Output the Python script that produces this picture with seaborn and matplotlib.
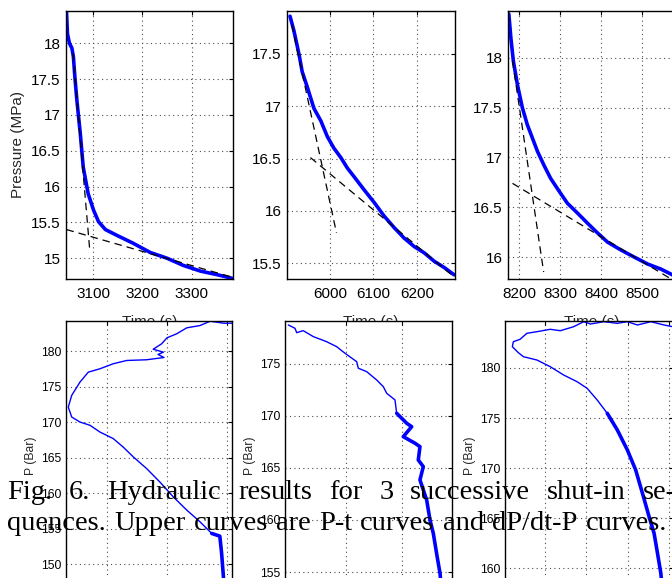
import matplotlib
matplotlib.use("Agg")
import matplotlib.pyplot as plt
import pandas as pd
import seaborn as sns

# ---------------- data ----------------
# Upper row: P-t curves (time in s, pressure in MPa)
t1 = [3046, 3048, 3052, 3057, 3060, 3063, 3067, 3074, 3080, 3090, 3101, 3111,
      3125, 3148, 3181, 3216, 3250, 3283, 3318, 3352, 3382]
p1 = [18.44, 18.13, 18.00, 17.93, 17.81, 17.53, 17.21, 16.74, 16.27, 15.90, 15.67,
      15.51, 15.40, 15.32, 15.21, 15.08, 15.00, 14.90, 14.82, 14.77, 14.72]
fit1_steep_t = [3059, 3093]
fit1_steep_p = [17.86, 15.13]
fit1_flat_t = [3046, 3380]
fit1_flat_p = [15.40, 14.74]

t2 = [5908, 5917, 5929, 5936, 5948, 5963, 5979, 5994, 6009, 6025, 6040, 6055, 6079,
      6102, 6125, 6148, 6171, 6194, 6217, 6240, 6263, 6286]
p2 = [17.86, 17.72, 17.49, 17.33, 17.18, 16.98, 16.86, 16.71, 16.60, 16.51, 16.41,
      16.33, 16.20, 16.08, 15.95, 15.84, 15.74, 15.66, 15.60, 15.52, 15.46, 15.39]
fit2_steep_t = [5912, 6015]
fit2_steep_p = [17.78, 15.79]
fit2_flat_t = [5955, 6286]
fit2_flat_p = [16.51, 15.37]

t3 = [8175, 8180, 8186, 8196, 8208, 8220, 8233, 8245, 8261, 8277, 8298, 8318, 8343,
      8367, 8392, 8416, 8449, 8481, 8514, 8546, 8575]
p3 = [18.44, 18.20, 17.97, 17.73, 17.50, 17.33, 17.19, 17.06, 16.92, 16.79, 16.66,
      16.54, 16.44, 16.34, 16.24, 16.15, 16.07, 16.00, 15.93, 15.88, 15.82]
fit3_steep_t = [8184, 8260]
fit3_steep_p = [17.97, 15.85]
fit3_flat_t = [8184, 8575]
fit3_flat_p = [16.74, 15.77]

# Lower row: dP/dt-P curves (P in bar)
d1 = [3.09, 2.94, 2.72, 2.55, 2.33, 2.16, 2.00, 1.91, 1.77, 1.94, 1.85, 1.95, 1.66,
      1.33, 1.105, 0.883, 0.688, 0.55, 0.412, 0.355, 0.412, 0.55, 0.717, 0.883, 1.105,
      1.27, 1.44, 1.66, 1.88, 2.105, 2.33, 2.55, 2.745, 2.88, 2.91, 2.94, 2.95]
q1 = [183.99, 183.99, 184.27, 183.66, 183.34, 182.49, 181.93, 181.08, 180.32, 179.90,
      179.58, 179.15, 178.83, 178.73, 178.27, 177.56, 177.08, 175.68, 173.80, 172.15,
      170.75, 170.04, 169.58, 168.63, 167.70, 166.51, 165.11, 163.48, 161.59, 159.48,
      157.61, 155.96, 154.32, 153.94, 151.51, 148.21, 144.93]

d2 = [-0.030, 0.089, 0.120, 0.237, 0.416, 0.655, 0.834, 0.982, 1.191, 1.220, 1.370,
      1.548, 1.666, 1.727, 1.875, 1.905, 2.084, 2.173, 2.023, 2.232, 2.321, 2.291,
      2.380, 2.321, 2.441, 2.500, 2.559, 2.620, 2.679, 2.714]
q2 = [178.75, 178.43, 178.01, 178.20, 177.63, 177.14, 176.66, 176.03, 175.22, 174.59,
      174.26, 173.46, 172.82, 172.18, 171.54, 170.26, 169.30, 168.97, 168.01, 167.38,
      167.05, 165.77, 165.13, 163.85, 161.92, 160.00, 158.72, 156.72, 154.88, 152.79]

d3 = [4.09, 3.885, 3.561, 3.237, 2.993, 2.749, 2.422, 2.098, 1.934, 1.690, 1.366,
      1.122, 0.798, 0.554, 0.390, 0.227, 0.202, 0.349, 0.471, 0.798, 1.122, 1.446,
      1.773, 2.017, 2.261, 2.505, 2.749, 2.993, 3.195, 3.359, 3.520, 3.641, 3.724,
      3.805, 3.854]
q3 = [184.13, 184.30, 184.63, 184.30, 184.63, 184.47, 184.63, 184.40, 184.63, 184.13,
      183.73, 183.87, 183.63, 183.47, 182.87, 182.63, 182.13, 181.53, 181.13, 180.80,
      180.13, 179.30, 178.63, 177.97, 176.80, 175.47, 173.80, 171.80, 169.80, 167.47,
      165.13, 163.47, 161.47, 159.47, 157.30]

top_xticks = [[3100, 3200, 3300], [6000, 6100, 6200], [8200, 8300, 8400, 8500]]
top_yticks = [[15, 15.5, 16, 16.5, 17, 17.5, 18], [15.5, 16, 16.5, 17, 17.5],
              [16, 16.5, 17, 17.5, 18]]
bot_yticks = [[150, 155, 160, 165, 170, 175, 180], [155, 160, 165, 170, 175],
              [160, 165, 170, 175, 180]]
bot_xticks = [[1, 2, 3], [1, 2], [1, 2, 3, 4]]

caption1 = ["Fig.", "6.", "Hydraulic", "results", "for", "3", "successive", "shut-in", "se-"]
caption2 = ["quences.", "Upper", "curves", "are", "P-t", "curves", "and", "dP/dt-P", "curves."]

# ---------------- figure ----------------
sns.set_style("white")
plt.rcParams["font.family"] = ["Liberation Sans", "DejaVu Sans"]

W, H = 672, 578
fig = plt.figure(figsize=(W / 100, H / 100), dpi=100)


def box(l, t, r, b):
    return [l / W, 1 - b / H, (r - l) / W, (b - t) / H]


def style(ax, fs, pad):
    ax.grid(True, linestyle=(0, (1, 3)), color="0.3", linewidth=0.8)
    ax.tick_params(direction="in", top=True, right=True, length=3, width=0.8,
                   labelsize=fs, pad=pad, colors="black")
    for s in ax.spines.values():
        s.set_visible(True)
        s.set_linewidth(1.0)
        s.set_color("black")
    ax.set_facecolor("white")


top_boxes = [box(66, 11, 233, 279), box(287, 11, 455, 279), box(508, 11, 676, 279)]
top_xlim = [(3045, 3384), (5901, 6288), (8173, 8583)]
top_ylim = [(14.71, 18.45), (15.35, 17.91), (15.78, 18.47)]
curves = [(t1, p1), (t2, p2), (t3, p3)]
fits = [((fit1_steep_t, fit1_steep_p), (fit1_flat_t, fit1_flat_p)),
        ((fit2_steep_t, fit2_steep_p), (fit2_flat_t, fit2_flat_p)),
        ((fit3_steep_t, fit3_steep_p), (fit3_flat_t, fit3_flat_p))]

for i in range(3):
    ax = fig.add_axes(top_boxes[i])
    t, p = curves[i]
    df = pd.DataFrame({"t": t, "p": p})
    sns.lineplot(data=df, x="t", y="p", ax=ax, color="blue", linewidth=2.6,
                 sort=False, estimator=None)
    for ft, fp in fits[i]:
        dff = pd.DataFrame({"t": ft, "p": fp})
        sns.lineplot(data=dff, x="t", y="p", ax=ax, color="black", linewidth=0.9,
                     sort=False, estimator=None, linestyle=(0, (6, 4)))
    ax.set_xlim(*top_xlim[i])
    ax.set_ylim(*top_ylim[i])
    ax.set_xticks(top_xticks[i])
    ax.set_yticks(top_yticks[i])
    ax.set_yticklabels([f"{v:g}" for v in top_yticks[i]])
    style(ax, 11, 4)
    ax.tick_params(axis="x", pad=6)
    ax.set_xlabel("Time (s)", fontsize=11, labelpad=10)
    if i == 0:
        ax.set_ylabel("Pressure (MPa)", fontsize=11, labelpad=4)
    else:
        ax.set_ylabel("")

bot_boxes = [box(66, 321, 232, 590), box(285, 321, 452, 590), box(505, 321, 673, 590)]
bot_xlim = [(0.317, 3.083), (-0.089, 2.893), (0.024, 4.10)]
bot_ylim = [(146.34, 184.3), (153.27, 179.13), (157.8, 184.7)]
bcurves = [(d1, q1), (d2, q2), (d3, q3)]
noisy_below = [154.5, 170.5, 176.0]

for i in range(3):
    ax = fig.add_axes(bot_boxes[i])
    d, q = bcurves[i]
    df = pd.DataFrame({"d": d, "q": q})
    sns.lineplot(data=df, x="d", y="q", ax=ax, color="blue", linewidth=1.0,
                 sort=False, estimator=None)
    tail = df[df["q"] <= noisy_below[i] + 0.5]
    sns.lineplot(data=tail, x="d", y="q", ax=ax, color="blue", linewidth=2.6,
                 sort=False, estimator=None)
    ax.set_xlim(*bot_xlim[i])
    ax.set_ylim(*bot_ylim[i])
    ax.set_xticks(bot_xticks[i])
    ax.set_yticks(bot_yticks[i])
    style(ax, 8.7, 3.5)
    ax.tick_params(axis="x", labelbottom=False)
    ax.set_xlabel("")
    ax.set_ylabel("P (Bar)", fontsize=8.7, labelpad=3)

# caption overlaid on the lower row, fully justified like the typeset source
fig.canvas.draw()
renderer = fig.canvas.get_renderer()


def justified_line(words, x0, x1, ybase):
    texts = [fig.text(0, 1 - ybase / H, w, family=["Liberation Serif", "DejaVu Serif"],
                      fontsize=20.5, va="baseline", ha="left", color="black")
             for w in words]
    widths = [tx.get_window_extent(renderer).width for tx in texts]
    gap = ((x1 - x0) - sum(widths)) / (len(words) - 1)
    x = x0
    for tx, w in zip(texts, widths):
        tx.set_x(x / W)
        x += w + gap


justified_line(caption1, 7, 676, 499)
justified_line(caption2, 7, 667, 530)

fig.savefig("out.png", dpi=100, facecolor="white")
